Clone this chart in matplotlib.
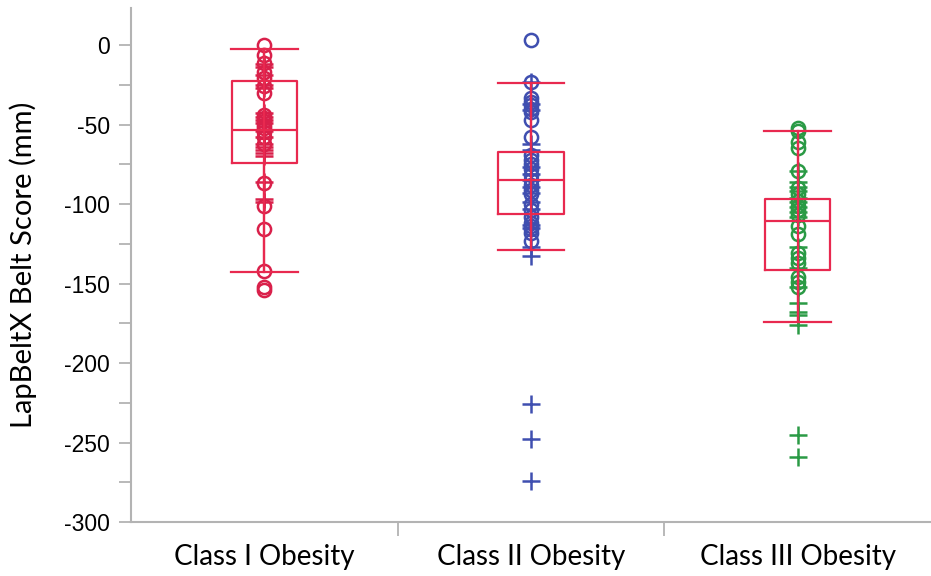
import matplotlib
matplotlib.use("Agg")
import matplotlib.pyplot as plt
from matplotlib.ticker import MultipleLocator, FixedLocator, NullFormatter

# Obesity classes on the x axis
categories = ["Class I Obesity", "Class II Obesity", "Class III Obesity"]

# Individual scores (mm), split by marker type
class1_circle = [0, -6, -11, -17, -21, -26, -30, -44, -46, -48, -50, -52, -55, -58, -62,
                 -87, -101, -116, -142, -152, -154]
class1_plus = [-12, -14, -19, -25, -27, -43, -45, -47, -49, -54, -58, -62, -64, -66, -68,
               -70, -86, -97, -99]

class2_circle = [3, -23, -33, -36, -38, -40, -42, -47, -58, -69, -72, -75, -78, -82, -85,
                 -88, -91, -94, -100, -104, -108, -112, -114, -116, -118, -123]
class2_plus = [-23, -37, -41, -62, -66, -77, -81, -85, -89, -93, -99, -103, -113, -115,
               -127, -133, -226, -248, -274]

class3_circle = [-52, -54, -61, -65, -79, -90, -94, -98, -101, -104, -107, -114, -119,
                 -131, -134, -137, -146, -149, -152]
class3_plus = [-79, -86, -89, -92, -96, -99, -102, -105, -108, -127, -140, -152, -162,
               -168, -170, -176, -245, -259]

# Box-plot summary per class: lower whisker, Q1, median, Q3, upper whisker
whisker_low = [-143, -129, -174]
q1 = [-74, -106, -141.5]
median = [-53.5, -85, -110.5]
q3 = [-22.5, -67.5, -97]
whisker_high = [-2.5, -24, -54]

y_ticks = [0, -50, -100, -150, -200, -250, -300]

circles = [class1_circle, class2_circle, class3_circle]
pluses = [class1_plus, class2_plus, class3_plus]
point_colors = ["#d9204a", "#3f4fb0", "#2a9a45"]
box_color = "#e8294f"
axis_gray = "#b3b3b3"
label_font = ["Lato", "DejaVu Sans"]
tick_font = ["Liberation Sans", "DejaVu Sans"]

fig = plt.figure(figsize=(9.31, 5.76), dpi=100)
ax = fig.add_axes([131 / 931, 1 - 522 / 576, 800 / 931, (522 - 8) / 576])

for i in range(3):
    ax.plot([i] * len(circles[i]), circles[i], linestyle="none", marker="o",
            markersize=9.5, markerfacecolor="none", markeredgecolor=point_colors[i],
            markeredgewidth=1.8, zorder=2)
    ax.plot([i] * len(pluses[i]), pluses[i], linestyle="none", marker="+",
            markersize=13, markeredgecolor=point_colors[i],
            markeredgewidth=1.8, zorder=2)

stats = []
for i, name in enumerate(categories):
    stats.append(dict(label=name, whislo=whisker_low[i], q1=q1[i], med=median[i],
                      q3=q3[i], whishi=whisker_high[i], fliers=[]))

line_kw = dict(color=box_color, linewidth=1.6)
ax.vlines(range(3), whisker_low, whisker_high, colors=box_color, linewidth=1.6, zorder=3)
ax.bxp(stats, positions=range(3), widths=0.245, showfliers=False,
       boxprops=line_kw, whiskerprops=line_kw, capprops=line_kw,
       medianprops=line_kw, capwidths=0.25, manage_ticks=False, zorder=3)

ax.set_xlim(-0.5, 2.5)
ax.set_ylim(-300, 23.3)

for side in ("top", "right"):
    ax.spines[side].set_visible(False)
for side in ("left", "bottom"):
    ax.spines[side].set_color(axis_gray)
    ax.spines[side].set_linewidth(1.5)

ax.yaxis.set_major_locator(FixedLocator(y_ticks))
ax.yaxis.set_minor_locator(MultipleLocator(25))
ax.set_yticklabels([str(v) for v in y_ticks])
for lab in ax.get_yticklabels():
    lab.set_fontfamily(tick_font)
    lab.set_fontsize(16.5)
ax.tick_params(axis="y", which="both", length=9, width=1.3, color=axis_gray, pad=6)

ax.set_xticks(range(3))
ax.set_xticklabels(categories)
for lab in ax.get_xticklabels():
    lab.set_fontfamily(label_font)
    lab.set_fontsize(20)
ax.xaxis.set_minor_locator(FixedLocator([0.5, 1.5]))
ax.xaxis.set_minor_formatter(NullFormatter())
ax.tick_params(axis="x", which="major", length=0, pad=16)
ax.tick_params(axis="x", which="minor", length=10, width=1.3, color=axis_gray)

ax.set_ylabel("LapBeltX Belt Score (mm)", fontsize=21, family=label_font)
ax.yaxis.set_label_coords(-0.1175, 0.5)

fig.savefig("out.png", dpi=100)
